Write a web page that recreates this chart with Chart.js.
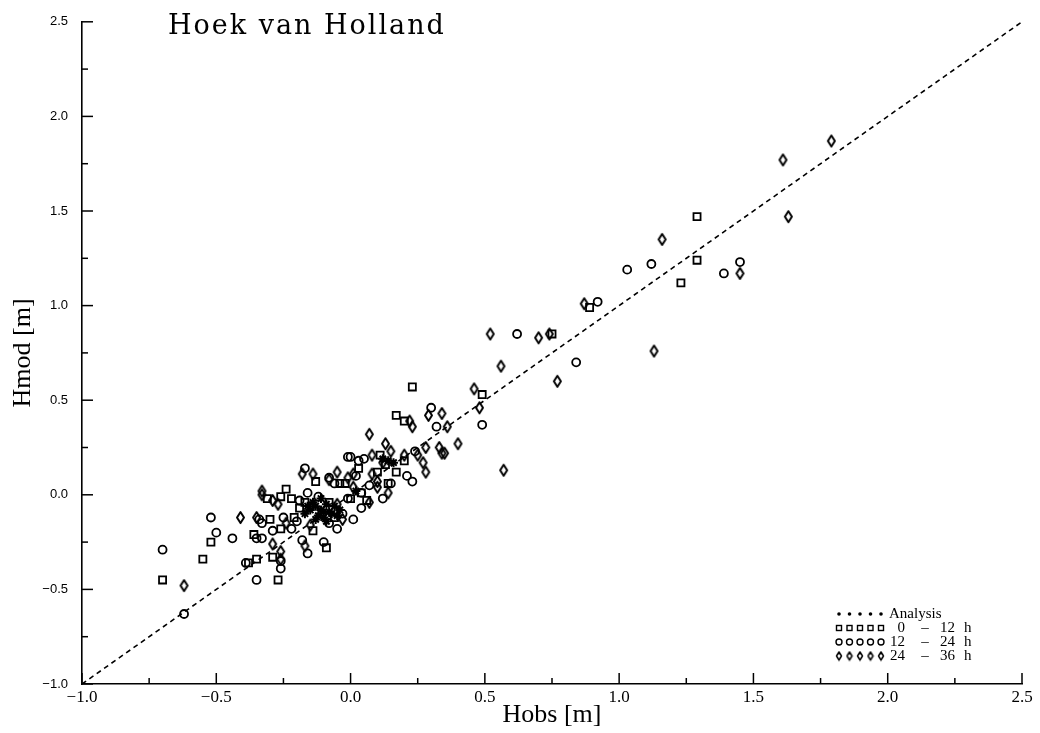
<!DOCTYPE html>
<html>
<head>
<meta charset="utf-8">
<script src="https://cdn.jsdelivr.net/npm/chart.js@4.4.1/dist/chart.umd.min.js"></script>
<style>
  html, body { margin: 0; padding: 0; background: #fff; }
  #wrap { width: 1040px; height: 733px; position: relative; }
</style>
</head>
<body>
<div id="wrap"><canvas id="chart"></canvas></div>
<script>
// Hobs / Hmod pairs [m]
const analysis = [
  [-0.13, -0.06], [-0.11, -0.08], [-0.09, -0.05], [-0.12, -0.11], [-0.08, -0.09],
  [-0.15, -0.08], [-0.10, -0.12], [-0.06, -0.06], [-0.14, -0.04], [-0.07, -0.10],
  [-0.11, -0.02], [-0.17, -0.10], [-0.04, -0.08], [-0.09, -0.14], [-0.13, -0.13],
  [-0.05, -0.11], [-0.16, -0.06], [-0.10, -0.09], [0.14, 0.18], [0.12, 0.19],
  [0.16, 0.17], [0.02, 0.02]
]
const h0to12 = [
  [1.29, 1.47], [1.29, 1.24], [1.23, 1.12], [0.89, 0.99], [0.75, 0.85], [0.49, 0.53],
  [0.23, 0.57], [0.17, 0.42], [0.20, 0.39], [0.11, 0.21], [0.20, 0.18], [0.17, 0.12],
  [0.10, 0.12], [0.14, 0.06], [0.13, 0.16], [-0.13, 0.07], [-0.02, 0.06], [-0.04, 0.06],
  [-0.24, 0.03], [-0.31, -0.02], [-0.26, -0.01], [-0.17, -0.04], [-0.30, -0.13],
  [-0.26, -0.18], [-0.36, -0.21], [-0.21, -0.12], [-0.09, -0.28], [-0.14, -0.19],
  [-0.29, -0.33], [-0.35, -0.34], [-0.38, -0.36], [-0.52, -0.25], [-0.55, -0.34],
  [-0.70, -0.45], [-0.27, -0.45], [-0.08, -0.04], [-0.19, -0.07], [0.00, -0.02],
  [-0.06, -0.12], [0.04, 0.01], [0.06, -0.03], [-0.22, -0.02], [0.03, 0.14]
]
const h12to24 = [
  [1.03, 1.19], [1.12, 1.22], [1.39, 1.17], [1.45, 1.23], [0.92, 1.02], [0.62, 0.85],
  [0.84, 0.70], [0.49, 0.37], [0.30, 0.46], [0.32, 0.36], [0.24, 0.23], [0.00, 0.20],
  [0.03, 0.18], [0.05, 0.19], [0.21, 0.10], [0.23, 0.07], [0.15, 0.06], [0.12, -0.02],
  [0.04, -0.07], [0.01, -0.13], [0.04, 0.01], [-0.01, -0.02], [-0.17, 0.14], [-0.01, 0.20],
  [-0.08, 0.09], [0.02, 0.10], [-0.06, 0.06], [-0.16, 0.01], [-0.19, -0.03], [-0.34, -0.13],
  [-0.33, -0.15], [-0.29, -0.19], [-0.35, -0.23], [-0.33, -0.23], [-0.22, -0.18],
  [-0.25, -0.12], [-0.18, -0.24], [-0.16, -0.31], [-0.10, -0.25], [-0.05, -0.18],
  [-0.08, -0.15], [-0.26, -0.39], [-0.26, -0.35], [-0.39, -0.36], [-0.52, -0.12],
  [-0.50, -0.20], [-0.44, -0.23], [-0.70, -0.29], [-0.62, -0.63], [-0.35, -0.45],
  [-0.12, -0.01], [-0.03, -0.10], [-0.20, -0.14], [0.07, 0.05]
]
const h24to36 = [
  [1.79, 1.87], [1.61, 1.77], [1.63, 1.47], [1.16, 1.35], [1.45, 1.17], [1.13, 0.76],
  [0.87, 1.01], [0.52, 0.85], [0.70, 0.83], [0.74, 0.85], [0.56, 0.68], [0.77, 0.60],
  [0.46, 0.56], [0.48, 0.46], [0.34, 0.43], [0.36, 0.36], [0.40, 0.27], [0.34, 0.22],
  [0.57, 0.13], [0.29, 0.42], [0.22, 0.39], [0.23, 0.36], [0.07, 0.32], [0.13, 0.27],
  [0.28, 0.25], [0.33, 0.25], [0.35, 0.22], [0.08, 0.21], [0.15, 0.23], [0.20, 0.21],
  [0.25, 0.21], [0.27, 0.17], [0.28, 0.12], [0.10, 0.07], [0.12, 0.17], [0.08, 0.11],
  [0.10, 0.04], [0.07, -0.04], [0.01, 0.04], [0.14, 0.01], [-0.05, 0.12], [-0.14, 0.11],
  [-0.18, 0.11], [-0.08, 0.08], [-0.01, 0.09], [0.01, 0.11], [-0.33, 0.02], [-0.33, 0.00],
  [-0.29, -0.03], [-0.27, -0.05], [-0.41, -0.12], [-0.35, -0.12], [-0.24, -0.15],
  [-0.29, -0.26], [-0.26, -0.30], [-0.26, -0.34], [-0.17, -0.27], [-0.03, -0.13],
  [-0.62, -0.48], [-0.05, -0.05], [-0.15, -0.16]
]
const diagonal = [[-1.0, -1.0], [2.5, 2.5]]

const axisMin = -1.0
const axisMax = 2.5
const tickStep = 0.25
const titleText = 'Hoek van Holland'
const legendRows = [
  { style: 'star', text: ['Analysis'] },
  { style: 'rect', text: ['0', '\u2013', '12', 'h'] },
  { style: 'circle', text: ['12', '\u2013', '24', 'h'] },
  { style: 'diamond', text: ['24', '\u2013', '36', 'h'] }
]

const toXY = arr => arr.map(p => ({ x: p[0], y: p[1] }))
const isMajor = v => Math.abs(v * 2 - Math.round(v * 2)) < 1e-6
const fmt = v => isMajor(v) ? Number(v).toFixed(1).replace('-', '\u2212') : ''

// tall narrow lozenge used for the 24-36 h points
function diamondImage(w, h, lw) {
  const c = document.createElement('canvas')
  c.width = Math.ceil(w + lw * 2)
  c.height = Math.ceil(h + lw * 2)
  const ctx = c.getContext('2d')
  ctx.lineWidth = lw
  ctx.strokeStyle = '#000'
  ctx.lineJoin = 'round'
  ctx.beginPath()
  ctx.moveTo(c.width / 2, lw)
  ctx.lineTo(c.width - lw, c.height / 2)
  ctx.lineTo(c.width / 2, c.height - lw)
  ctx.lineTo(lw, c.height / 2)
  ctx.closePath()
  ctx.stroke()
  return c
}
const diamond = diamondImage(7, 11, 2)
const diamondSmall = diamondImage(5, 8, 1.5)

// inward tick marks, title and legend
const decorations = {
  id: 'decorations',
  afterDraw(chart) {
    const { ctx, chartArea, scales } = chart
    ctx.save()
    ctx.strokeStyle = '#000'
    ctx.lineWidth = 1.5
    scales.x.ticks.forEach(t => {
      const px = scales.x.getPixelForValue(t.value)
      const len = isMajor(t.value) ? 11 : 6
      ctx.beginPath()
      ctx.moveTo(px, chartArea.bottom)
      ctx.lineTo(px, chartArea.bottom - len)
      ctx.stroke()
    })
    scales.y.ticks.forEach(t => {
      const py = scales.y.getPixelForValue(t.value)
      const len = isMajor(t.value) ? 11 : 6
      ctx.beginPath()
      ctx.moveTo(chartArea.left, py)
      ctx.lineTo(chartArea.left + len, py)
      ctx.stroke()
    })

    ctx.fillStyle = '#000'
    ctx.font = '27px "DejaVu Serif"'
    ctx.letterSpacing = '2px'
    ctx.textBaseline = 'alphabetic'
    ctx.fillText(titleText, chartArea.left + 86, 34)
    ctx.letterSpacing = '0px'

    const x0 = chartArea.right - 183
    const y0 = chartArea.bottom - 70
    ctx.font = '15px "Liberation Serif"'
    ctx.textBaseline = 'middle'
    legendRows.forEach((row, i) => {
      const y = y0 + i * 14
      for (let k = 0; k < 5; k++) {
        const mx = x0 + k * 10.5
        ctx.lineWidth = 1.4
        ctx.beginPath()
        if (row.style === 'rect') {
          ctx.strokeRect(mx - 2.5, y - 2.5, 5, 5)
        } else if (row.style === 'circle') {
          ctx.arc(mx, y, 3, 0, Math.PI * 2)
          ctx.stroke()
        } else if (row.style === 'diamond') {
          ctx.drawImage(diamondSmall, mx - diamondSmall.width / 2, y - diamondSmall.height / 2)
        } else {
          ctx.arc(mx, y, 1.8, 0, Math.PI * 2)
          ctx.fill()
        }
      }
      if (row.text.length === 1) {
        ctx.textAlign = 'left'
        ctx.fillText(row.text[0], x0 + 50, y)
      } else {
        ctx.textAlign = 'right'
        ctx.fillText(row.text[0], x0 + 66, y)
        ctx.textAlign = 'center'
        ctx.fillText(row.text[1], x0 + 86, y)
        ctx.textAlign = 'right'
        ctx.fillText(row.text[2], x0 + 116, y)
        ctx.textAlign = 'left'
        ctx.fillText(row.text[3], x0 + 125, y)
      }
    })
    ctx.restore()
  }
}

const chart = new Chart(document.getElementById('chart'), {
  type: 'scatter',
  data: {
    datasets: [
      {
        type: 'line',
        label: 'Hmod = Hobs',
        data: toXY(diagonal),
        borderColor: '#000',
        borderWidth: 1.6,
        borderDash: [5, 4],
        pointRadius: 0,
        fill: false
      },
      {
        label: 'Analysis',
        data: toXY(analysis),
        pointStyle: 'star',
        radius: 4.5,
        borderColor: '#000',
        borderWidth: 2,
        backgroundColor: 'transparent'
      },
      {
        label: '0 - 12 h',
        data: toXY(h0to12),
        pointStyle: 'rect',
        radius: 5,
        borderColor: '#000',
        borderWidth: 1.8,
        backgroundColor: 'transparent'
      },
      {
        label: '12 - 24 h',
        data: toXY(h12to24),
        pointStyle: 'circle',
        radius: 4,
        borderColor: '#000',
        borderWidth: 1.8,
        backgroundColor: 'transparent'
      },
      {
        label: '24 - 36 h',
        data: toXY(h24to36),
        pointStyle: diamond,
        radius: 5,
        borderColor: '#000',
        backgroundColor: 'transparent'
      }
    ]
  },
  options: {
    responsive: true,
    maintainAspectRatio: false,
    animation: false,
    events: [],
    layout: { padding: { left: 0, top: 18, right: 18, bottom: 0 } },
    plugins: {
      legend: { display: false },
      title: { display: false },
      tooltip: { enabled: false }
    },
    scales: {
      x: {
        type: 'linear',
        min: axisMin,
        max: axisMax,
        afterBuildTicks(scale) {
          const ticks = []
          for (let v = axisMin; v <= axisMax + 1e-9; v += tickStep) ticks.push({ value: Math.round(v * 100) / 100 })
          scale.ticks = ticks
        },
        ticks: {
          autoSkip: false,
          maxRotation: 0,
          padding: 3,
          color: '#000',
          font: { family: 'Liberation Serif', size: 17 },
          callback: fmt
        },
        grid: { drawOnChartArea: false, drawTicks: false },
        border: { color: '#000', width: 1.6 },
        title: {
          display: true,
          text: 'Hobs [m]',
          color: '#000',
          font: { family: 'Liberation Serif', size: 26 },
          padding: { top: 0, bottom: 2 }
        },
        afterFit(scale) { scale.height = 49 }
      },
      y: {
        type: 'linear',
        min: axisMin,
        max: axisMax,
        afterBuildTicks(scale) {
          const ticks = []
          for (let v = axisMin; v <= axisMax + 1e-9; v += tickStep) ticks.push({ value: Math.round(v * 100) / 100 })
          scale.ticks = ticks
        },
        ticks: {
          autoSkip: false,
          padding: 14,
          color: '#000',
          font: { family: 'Liberation Sans', size: 13 },
          callback: fmt
        },
        grid: { drawOnChartArea: false, drawTicks: false },
        border: { color: '#000', width: 1.6 },
        title: {
          display: true,
          text: 'Hmod [m]',
          color: '#000',
          font: { family: 'Liberation Serif', size: 26 },
          padding: { top: 8, bottom: 0 }
        },
        afterFit(scale) { scale.width = 82 }
      }
    }
  },
  plugins: [decorations]
})
</script>
</body>
</html>
